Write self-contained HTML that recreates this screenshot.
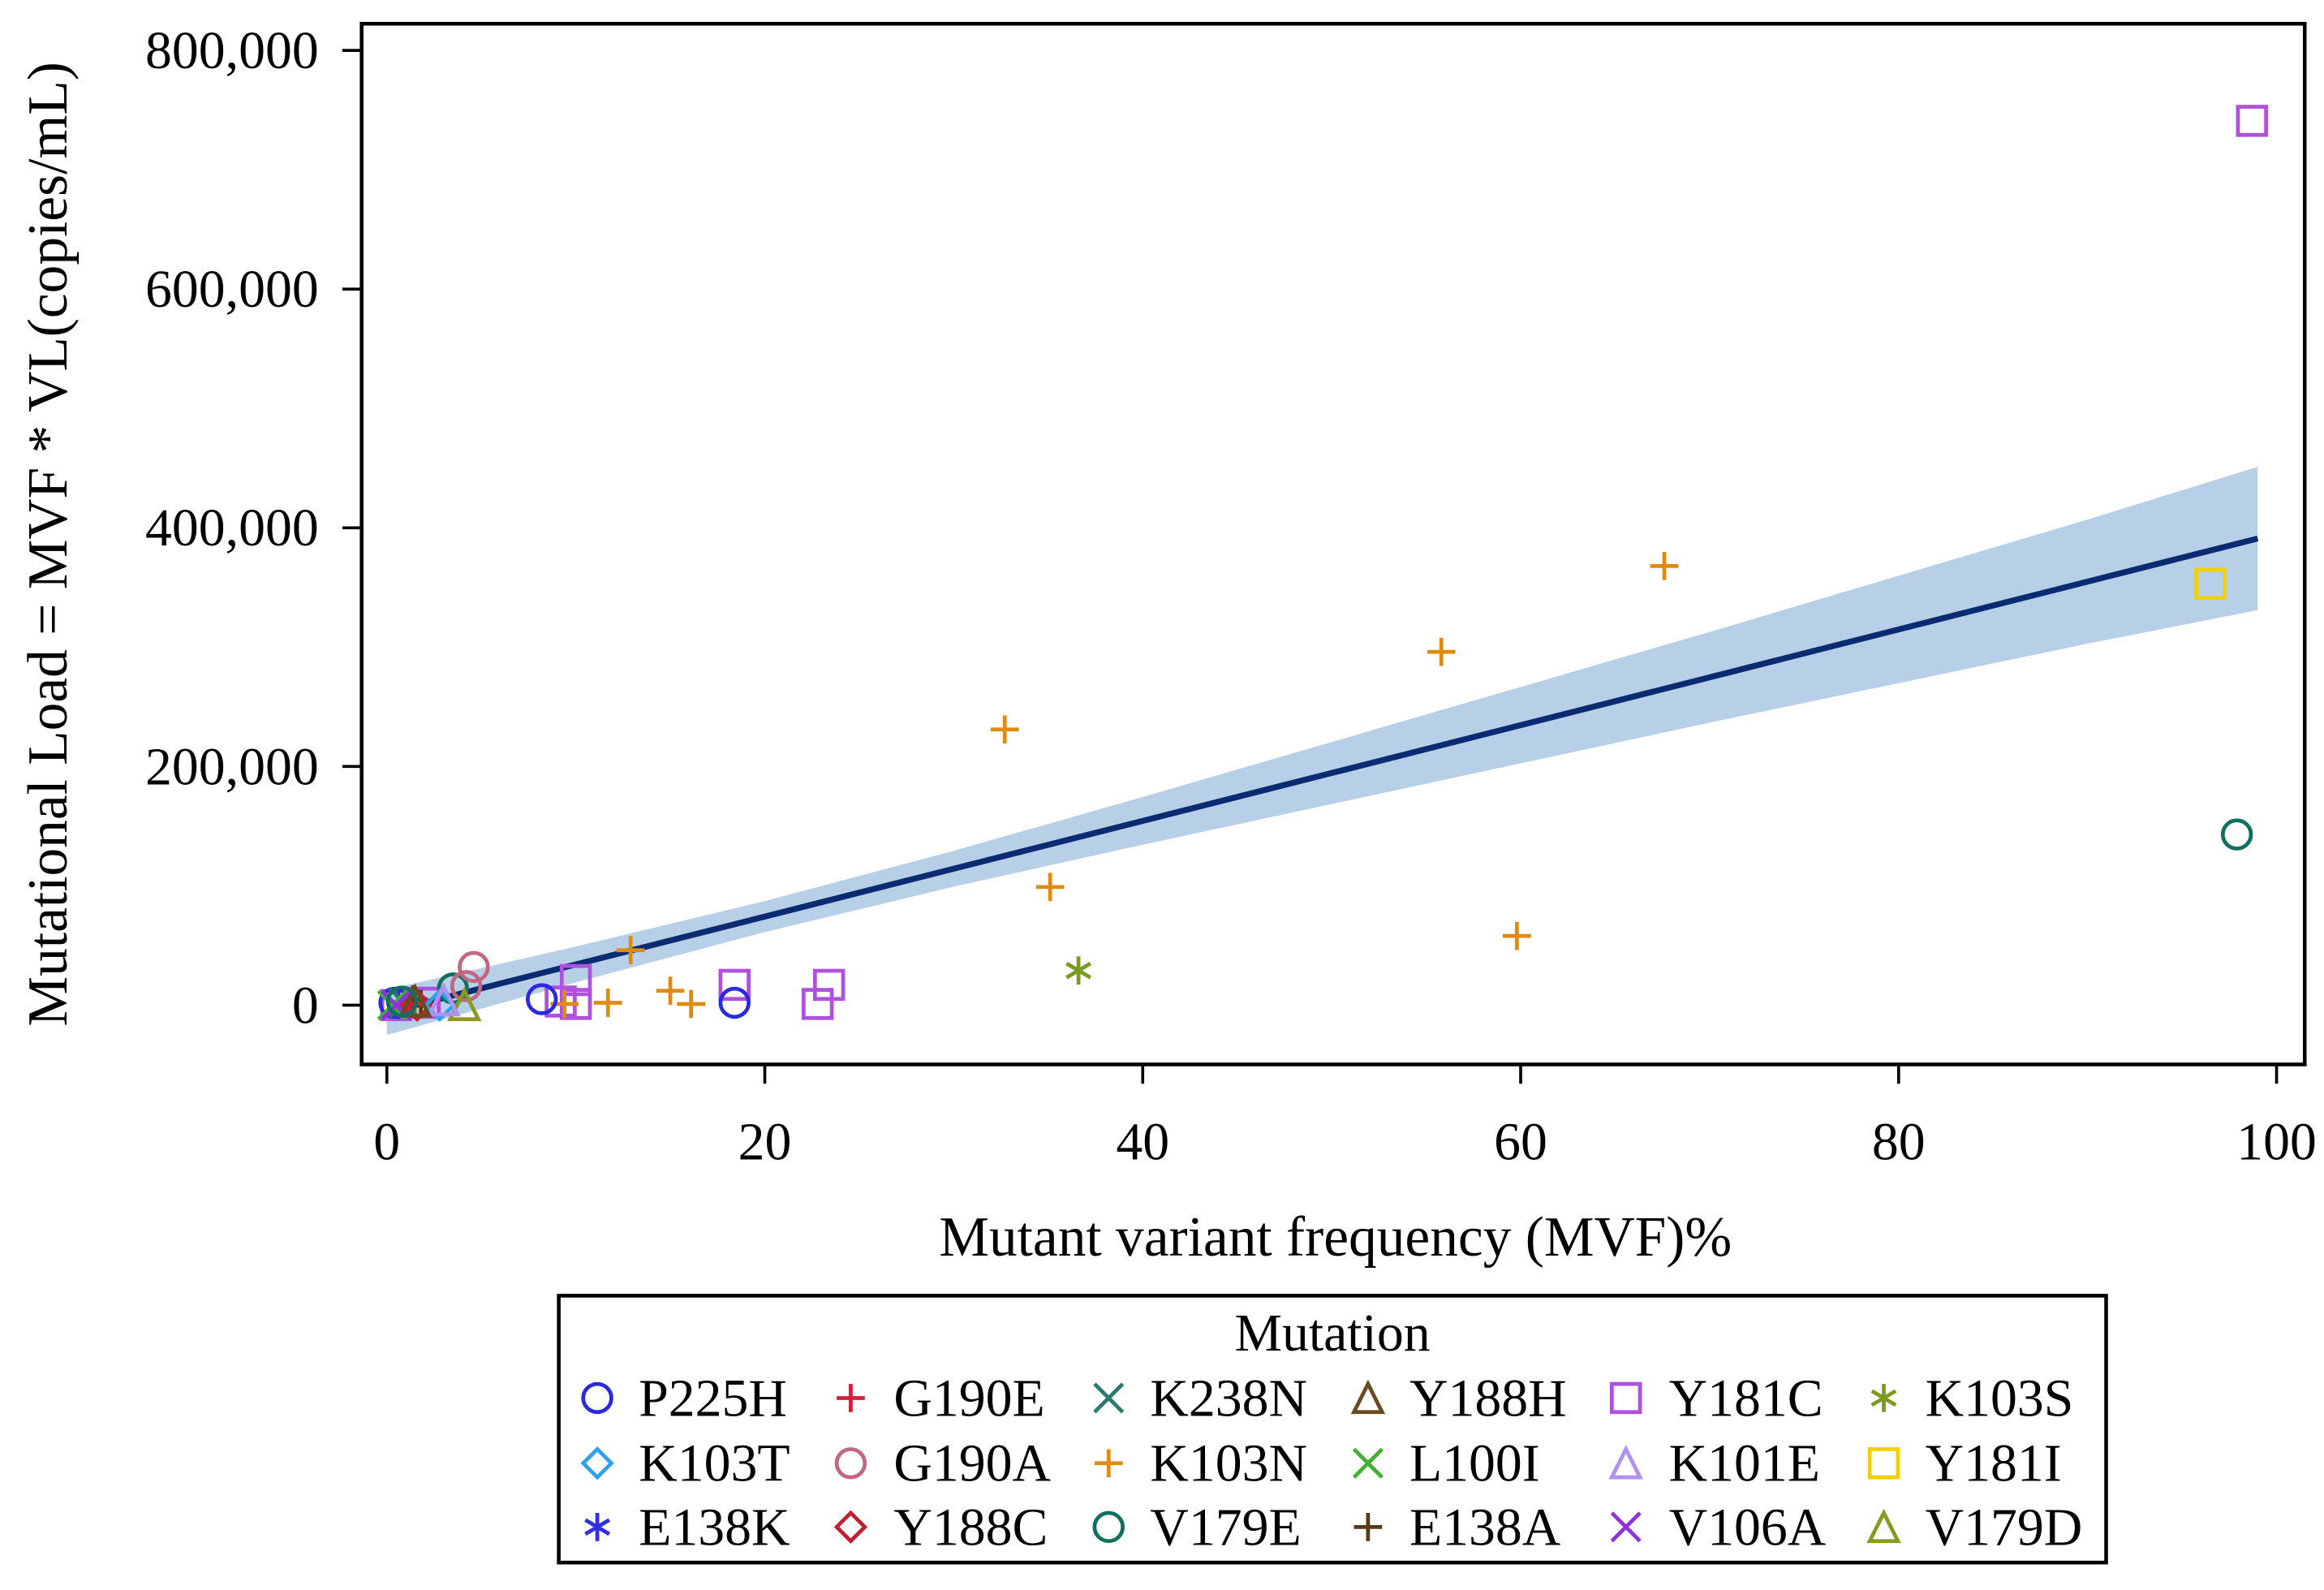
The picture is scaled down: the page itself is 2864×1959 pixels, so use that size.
<!DOCTYPE html>
<html><head><meta charset="utf-8"><style>
html,body{margin:0;padding:0;background:#fff}
svg{display:block}
text{font-family:"Liberation Serif",serif;fill:#000}
</style></head><body>
<svg id="chart" width="2864" height="1959" viewBox="0 0 1568 1072.5" xmlns="http://www.w3.org/2000/svg">
<rect x="0" y="0" width="1568" height="1072.5" fill="#fff"/>
<g id="band"></g>
<g id="fit"></g>
<g id="points"></g>
<rect x="244" y="16" width="1311" height="702" fill="none" stroke="#000" stroke-width="2.5"/>
<g id="xaxis"></g>
<g id="yaxis"></g>
<text x="901" y="847" font-size="38" text-anchor="middle">Mutant variant frequency (MVF)%</text>
<text transform="translate(45,367) rotate(-90)" font-size="38" text-anchor="middle">Mutational Load = MVF * VL(copies/mL)</text>
<g id="legend">
<rect x="377" y="874" width="1044" height="180" fill="#fff" stroke="#000" stroke-width="2.5"/>
<text x="899" y="911" font-size="36" text-anchor="middle">Mutation</text>
</g>
</svg>
<script>
const xTicks=[0,20,40,60,80,100];
const yTicks=[0,200000,400000,600000,800000];
const yTickLabels=["0","200,000","400,000","600,000","800,000"];
const fitX=[0,99];
const fitY=[-6000,391000];
const bandX=[0,10,20,30,40,50,60,70,80,90,99];
const bandHalf=[19000,15000,13000,15000,20000,26000,32000,38000,45000,52000,60000];
const mutNames=["P225H","G190E","K238N","Y188H","Y181C","K103S","K103T","G190A","K103N","L100I","K101E","Y181I","E138K","Y188C","V179E","E138A","V106A","V179D"];
const mutColors=["#2a2ae0","#d0203a","#2a7a70","#6b4a22","#b050e0","#7a9a20","#30a0f0","#c06880","#e08a10","#40b030","#b090f0","#f0d000","#3030e0","#c02030","#107060","#5a3a10","#9030e0","#8a9a20"];
const mutShapes=["circle","plus","x","triangle","square","star","diamond","circle","plus","x","triangle","square","star","diamond","circle","plus","x","triangle"];
const ptMut=["Y181C","Y181C","Y181C","Y181C","Y181C","Y181C","Y181C","Y181C","Y181C",
"K103N","K103N","K103N","K103N","K103N","K103N","K103N","K103N","K103N","K103N","K103N",
"Y181I","V179E","V179E","K103S","P225H","P225H","P225H","G190A","G190A","V179D",
"E138K","E138A","E138A","K238N","Y188C","K103T","K101E","G190E","L100I","V106A","Y188H","V179E"];
const ptX=[98.7,10,18.4,23.4,22.8,10,9.2,0.5,2,
32.7,55.8,67.6,35.1,59.8,12.9,15,16.1,11.7,9.4,1.5,
96.5,97.9,3.5,36.6,8.2,18.4,0.4,4.6,4.2,4.1,
0.6,1.4,1.8,0.9,1.6,2.8,3,1.2,0.3,0.5,1.5,0.8];
const ptY=[741000,21000,17000,17000,1000,1000,3000,0,2000,
231000,296000,368000,99000,58000,46000,12000,1000,2000,1000,3000,
353000,143000,14000,29000,5000,2000,2000,32000,16000,0,
0,5000,1000,2000,0,0,4000,1000,0,0,3000,3000];
const NS="http://www.w3.org/2000/svg";
function sx(v){return 261+v*(1536-261)/100;}
function sy(v){return 678-v*(678-34)/800000;}
function fitAt(x){return fitY[0]+(fitY[1]-fitY[0])*(x-fitX[0])/(fitX[1]-fitX[0]);}
function mk(t,a,p){const e=document.createElementNS(NS,t);for(const k in a)e.setAttribute(k,a[k]);(p||document.getElementById("chart")).appendChild(e);return e;}
let d="";
bandX.forEach((x,i)=>{d+=(i?"L":"M")+sx(x)+","+sy(fitAt(x)+bandHalf[i]);});
for(let i=bandX.length-1;i>=0;i--)d+="L"+sx(bandX[i])+","+sy(fitAt(bandX[i])-bandHalf[i]);
const bp=mk("path",{d:d+"Z",fill:"#b8cfe8"},document.getElementById("band"));


const fl=mk("line",{x1:sx(fitX[0]),y1:sy(fitY[0]),x2:sx(fitX[1]),y2:sy(fitY[1]),stroke:"#0a2a72","stroke-width":4},document.getElementById("fit"));


function marker(shape,cx,cy,col,g){
 const r=9.5,s={fill:"none",stroke:col,"stroke-width":2.6};
 let el;
 if(shape==="circle")el=mk("circle",Object.assign({cx:cx,cy:cy,r:r},s),g);
 else if(shape==="square")el=mk("rect",Object.assign({x:cx-r,y:cy-r,width:2*r,height:2*r},s),g);
 else if(shape==="diamond")el=mk("path",Object.assign({d:`M${cx},${cy-r}L${cx+r},${cy}L${cx},${cy+r}L${cx-r},${cy}Z`},s),g);
 else if(shape==="triangle")el=mk("path",Object.assign({d:`M${cx},${cy-r}L${cx+r},${cy+r}L${cx-r},${cy+r}Z`},s),g);
 else if(shape==="plus")el=mk("path",Object.assign({d:`M${cx-r},${cy}H${cx+r}M${cx},${cy-r}V${cy+r}`},s),g);
 else if(shape==="x")el=mk("path",Object.assign({d:`M${cx-r},${cy-r}L${cx+r},${cy+r}M${cx-r},${cy+r}L${cx+r},${cy-r}`},s),g);
 else el=mk("path",Object.assign({d:`M${cx},${cy-r}V${cy+r}M${cx-r*0.85},${cy-r*0.5}L${cx+r*0.85},${cy+r*0.5}M${cx-r*0.85},${cy+r*0.5}L${cx+r*0.85},${cy-r*0.5}`},s),g);
 return el;
}
const pg=document.getElementById("points");
ptMut.forEach((m,i)=>{
 const k=mutNames.indexOf(m);
 const el=marker(mutShapes[k],sx(ptX[i]),sy(ptY[i]),mutColors[k],pg);
 
 
});
const xa=document.getElementById("xaxis");
xTicks.forEach(v=>{
 const l=mk("line",{x1:sx(v),y1:718,x2:sx(v),y2:731,stroke:"#000","stroke-width":2},xa);
 
 
 const t=mk("text",{x:sx(v),y:782,"font-size":36,"text-anchor":"middle"},xa);
 t.textContent=v;
 
 
});
const ya=document.getElementById("yaxis");
yTicks.forEach((v,i)=>{
 const l=mk("line",{x1:231,y1:sy(v),x2:244,y2:sy(v),stroke:"#000","stroke-width":2},ya);
 
 
 const t=mk("text",{x:215,y:sy(v)+12,"font-size":36,"text-anchor":"end"},ya);
 t.textContent=yTickLabels[i];
 
 
});
const lg=document.getElementById("legend");
const colSym=[403,574,748,923,1097,1271],colTxt=[431,603,776,951,1126,1299],rowY=[943,987,1030];
mutNames.forEach((m,i)=>{
 const r=Math.floor(i/6),c=i%6;
 const el=marker(mutShapes[i],colSym[c],rowY[r],mutColors[i],lg);
 
 
 const t=mk("text",{x:colTxt[c],y:rowY[r]+12,"font-size":36},lg);
 t.textContent=m;
 
 
});
</script>
</body></html>
